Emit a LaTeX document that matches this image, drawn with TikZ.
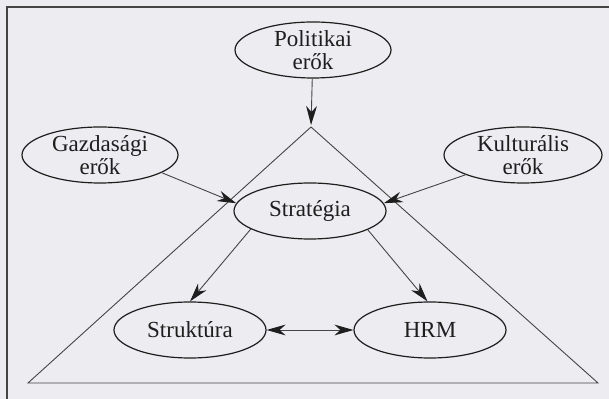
\documentclass[tikz,border=0pt]{standalone}
\usepackage{fontspec}
\setmainfont{Liberation Serif}
\usepackage{tikz}
\usetikzlibrary{positioning, arrows.meta, calc, shapes.geometric}
\definecolor{myInk}{HTML}{1E1E1E}
\definecolor{myLine}{HTML}{454545}
\definecolor{myPaper}{HTML}{EDEDF1}

\begin{document}
\begin{tikzpicture}[x=0.5pt, y=-0.5pt,
  >={Stealth[length=9.5pt, width=5.4pt, inset=3pt, color=myInk]},
  ell/.style={ellipse, draw=myInk, line width=0.6pt, inner sep=0pt,
              minimum width=76pt, minimum height=28pt,
              font=\fontsize{11.5}{11.5}\selectfont, text=myInk, align=center},
  arr/.style={->, line width=0.45pt, draw=myLine}
]
\useasboundingbox (0,0) rectangle (609,399);
\fill[myPaper] (0,0) rectangle (609,399);
\draw[myLine, line width=1pt] (7,399) -- (7,7) -- (609,7);

% pyramid
\coordinate (apex) at (311,127);
\coordinate (bl) at (28,383);
\coordinate (br) at (598,383);
\draw[myLine, line width=0.45pt] (apex) -- (bl) -- (br) -- cycle;

\node[ell, minimum width=78pt] (pol)  at (313,50)  {Politikai\\erők};
\node[ell, minimum width=78pt] (gazd) at (100,155) {Gazdasági\\erők};
\node[ell, minimum width=79pt] (kult) at (523,155) {Kulturális\\erők};
\node[ell] (strat) at (310,211) {Stratégia};
\node[ell] (strukt) at (190,330) {Struktúra};
\node[ell] (hrm) at (430,330) {HRM};

\draw[arr, shorten >=1pt] (pol) -- (apex);
\draw[arr] (gazd.-16) -- (strat.174);
\draw[arr] (kult.199) -- (strat.6);
\draw[arr] (strat.197) -- (strukt.north);
\draw[arr] (strat.-18) -- (hrm.95);
\draw[arr, <->] (strukt.east) -- (hrm.west);
\end{tikzpicture}
\end{document}
